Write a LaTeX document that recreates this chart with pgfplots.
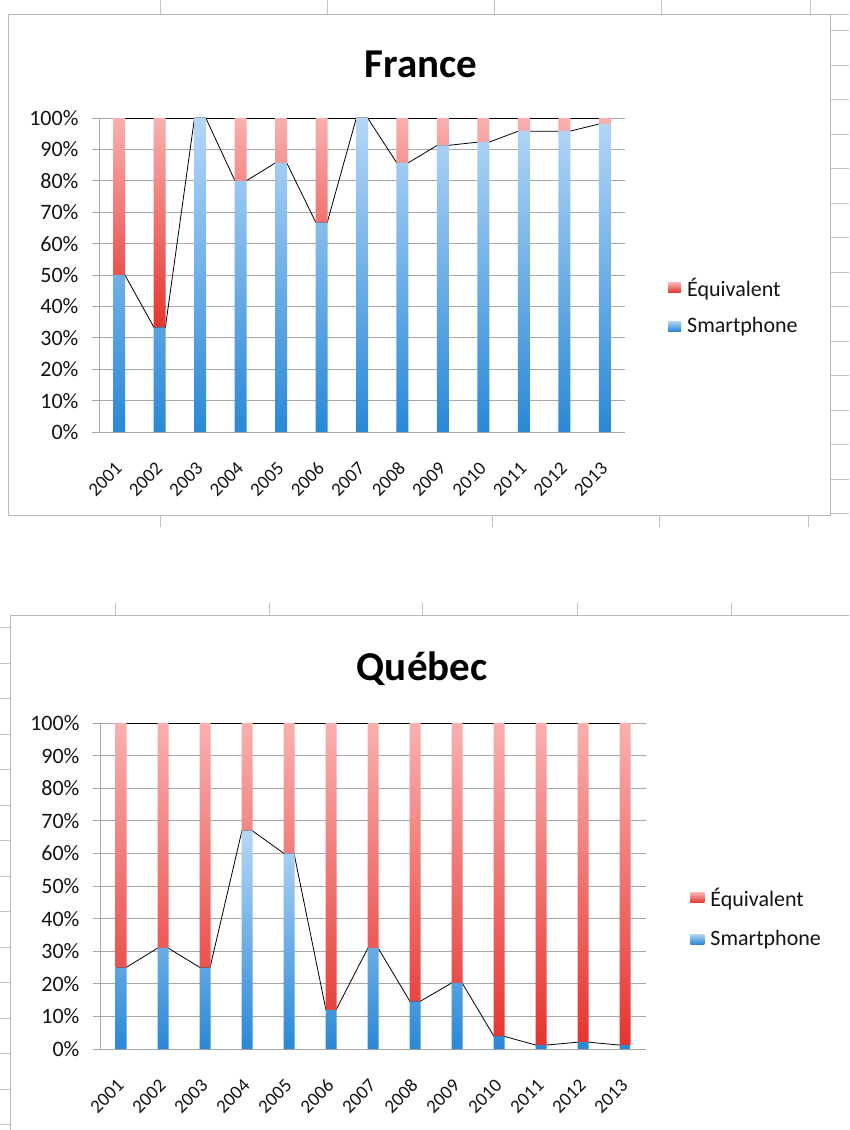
\documentclass[border=0pt]{standalone}
\usepackage{fontspec}
\setmainfont{Carlito}
\usepackage{pgfplots}
\usepackage{pgfplotstable}
\pgfplotsset{compat=1.18}

\definecolor{gridgray}{HTML}{A8A8A8}
\definecolor{framegray}{HTML}{B8B8B8}
\definecolor{sheetgray}{HTML}{C4C4C4}
\definecolor{bluetop}{HTML}{B5D7F7}
\definecolor{bluebot}{HTML}{2A88D6}
\definecolor{redtop}{HTML}{F9B0AF}
\definecolor{redbot}{HTML}{E5342F}
\definecolor{legred}{HTML}{E8595A}
\definecolor{legblue}{HTML}{5BA4E7}
\definecolor{txt}{HTML}{141414}

% Smartphone share (s) and Equivalent share (e)
\pgfplotstableread{
x s e
0 0.500 0.500
1 0.333 0.667
2 1.000 0.000
3 0.800 0.200
4 0.857 0.143
5 0.667 0.333
6 1.000 0.000
7 0.857 0.143
8 0.913 0.087
9 0.923 0.077
10 0.958 0.042
11 0.958 0.042
12 0.981 0.019
}\france

\pgfplotstableread{
x s e
0 0.250 0.750
1 0.310 0.690
2 0.250 0.750
3 0.670 0.330
4 0.600 0.400
5 0.120 0.880
6 0.310 0.690
7 0.146 0.854
8 0.203 0.797
9 0.039 0.961
10 0.012 0.988
11 0.021 0.979
12 0.012 0.988
}\quebec

\pgfplotsset{
  bgaxis/.style={
    scale only axis,
    xmin=-0.5, xmax=12.5, ymin=0, ymax=1,
    axis x line*=bottom, axis y line*=left,
    axis line style={gridgray, line width=0.9pt, -},
    ymajorgrids, grid style={gridgray, line width=0.9pt},
    ytick={0,0.1,0.2,0.3,0.4,0.5,0.6,0.7,0.8,0.9,1},
    yticklabels={0\%,10\%,20\%,30\%,40\%,50\%,60\%,70\%,80\%,90\%,100\%},
    xtick={0,1,2,3,4,5,6,7,8,9,10,11,12},
    xticklabels={2001,2002,2003,2004,2005,2006,2007,2008,2009,2010,2011,2012,2013},
    xtick style={draw=none},
    ytick style={gridgray, line width=0.9pt},
    tick align=outside, major tick length=7pt,
    yticklabel style={font=\fontsize{22}{26}\selectfont, text=txt, xshift=-10pt},
    xticklabel style={font=\fontsize{19}{23}\selectfont, text=txt, xshift=2pt, yshift=-24pt, rotate=45, anchor=east},
    clip=false,
  },
  fgaxis/.style={
    scale only axis,
    xmin=-0.5, xmax=12.5, ymin=0, ymax=1,
    hide axis, ybar stacked, clip=false,
    reverse legend,
    legend cell align=left,
  },
}

\begin{document}
\begin{tikzpicture}
\clip (0pt,0pt) rectangle (849pt,-1130pt);
\fill[white] (0pt,0pt) rectangle (849pt,-1130pt);

% spreadsheet cell lines around the charts
\foreach \cx in {160,327,494,661,810} {\draw[sheetgray, line width=0.9pt] (\cx pt,0pt) -- (\cx pt,-14pt);}
\foreach \cx in {160,492,659,808} {\draw[sheetgray, line width=0.9pt] (\cx pt,-515pt) -- (\cx pt,-527pt);}
\foreach \cy in {30.5,65,99.5,134,168.5,203,237.5,272,306.5,341,375.5,410,444.5,479,513.5} {\draw[sheetgray, line width=0.9pt] (830pt,-\cy pt) -- (849pt,-\cy pt);}
\draw[sheetgray, line width=0.9pt] (830pt,-14pt) -- (849pt,-14pt);
\foreach \cx in {115,269,422,577,731} {\draw[sheetgray, line width=0.9pt] (\cx pt,-603pt) -- (\cx pt,-615pt);}
\foreach \cy in {627,663,698,734,769,805,840,876,911,947,982,1018,1053,1089,1124} {\draw[sheetgray, line width=0.9pt] (0pt,-\cy pt) -- (10pt,-\cy pt);}

% chart frames
\draw[framegray, line width=1pt, fill=white] (8pt,-14pt) rectangle (830pt,-515pt);
\draw[framegray, line width=1pt, fill=white] (10pt,-615pt) rectangle (870pt,-1150pt);

% ---------------- France ----------------
\begin{axis}[bgaxis, width=526pt, height=314pt, at={(99pt,-432pt)}, anchor=south west,
  title={France}, title style={font=\fontsize{41}{48}\selectfont\bfseries, text=black, at={(0.612,1.153)}, anchor=center}]
\addplot[black, line width=0.8pt] coordinates {(0,1) (12,1)};
\addplot[black, line width=0.8pt] coordinates {
(-0.14,0.5)(0.14,0.5)(0.86,0.333)(1.14,0.333)(1.86,1)(2.14,1)(2.86,0.8)(3.14,0.8)
(3.86,0.857)(4.14,0.857)(4.86,0.667)(5.14,0.667)(5.86,1)(6.14,1)(6.86,0.857)(7.14,0.857)
(7.86,0.913)(8.14,0.913)(8.86,0.923)(9.14,0.923)(9.86,0.958)(10.14,0.958)(10.86,0.958)(11.14,0.958)
(11.86,0.981)(12.14,0.981)};
\end{axis}
\begin{axis}[fgaxis, width=526pt, height=314pt, at={(99pt,-432pt)}, anchor=south west,
  bar width=12pt,
  legend style={draw=none, fill=none, inner sep=0pt, at={(1.0817,0.401)}, anchor=west,
    font=\fontsize{22}{26}\selectfont, text=txt, row sep=16pt,
    /tikz/every odd column/.append style={column sep=4pt}}]
\addplot[draw=none, top color=bluetop, bottom color=bluebot,
  legend image code/.code={\fill[legblue] (0pt,-5pt) rectangle (13pt,5pt);}]
  table[x=x, y=s] {\france};
\addlegendentry{Smartphone}
\addplot[draw=none, top color=redtop, bottom color=redbot,
  legend image code/.code={\fill[legred] (0pt,-5pt) rectangle (13pt,5pt);}]
  table[x=x, y=e] {\france};
\addlegendentry{Équivalent}
\end{axis}

% ---------------- Québec ----------------
\begin{axis}[bgaxis, width=546pt, height=326pt, at={(100pt,-1049pt)}, anchor=south west,
  title={Québec}, title style={font=\fontsize{41}{48}\selectfont\bfseries, text=black, at={(0.59,1.148)}, anchor=center}]
\addplot[black, line width=0.8pt] coordinates {(0,1) (12,1)};
\addplot[black, line width=0.8pt] coordinates {
(-0.12,0.25)(0.12,0.25)(0.88,0.31)(1.12,0.31)(1.88,0.25)(2.12,0.25)(2.88,0.67)(3.12,0.67)
(3.88,0.60)(4.12,0.60)(4.88,0.12)(5.12,0.12)(5.88,0.31)(6.12,0.31)(6.88,0.146)(7.12,0.146)
(7.88,0.203)(8.12,0.203)(8.88,0.039)(9.12,0.039)(9.88,0.012)(10.12,0.012)(10.88,0.021)(11.12,0.021)
(11.88,0.012)(12.12,0.012)};
\end{axis}
\begin{axis}[fgaxis, width=546pt, height=326pt, at={(100pt,-1049pt)}, anchor=south west,
  bar width=11pt,
  legend style={draw=none, fill=none, inner sep=0pt, at={(1.081,0.403)}, anchor=west,
    font=\fontsize{22}{26}\selectfont, text=txt, row sep=19pt,
    /tikz/every odd column/.append style={column sep=4pt}}]
\addplot[draw=none, top color=bluetop, bottom color=bluebot,
  legend image code/.code={\fill[legblue] (0pt,-5pt) rectangle (14pt,5pt);}]
  table[x=x, y=s] {\quebec};
\addlegendentry{Smartphone}
\addplot[draw=none, top color=redtop, bottom color=redbot,
  legend image code/.code={\fill[legred] (0pt,-5pt) rectangle (14pt,5pt);}]
  table[x=x, y=e] {\quebec};
\addlegendentry{Équivalent}
\end{axis}
\end{tikzpicture}
\end{document}
